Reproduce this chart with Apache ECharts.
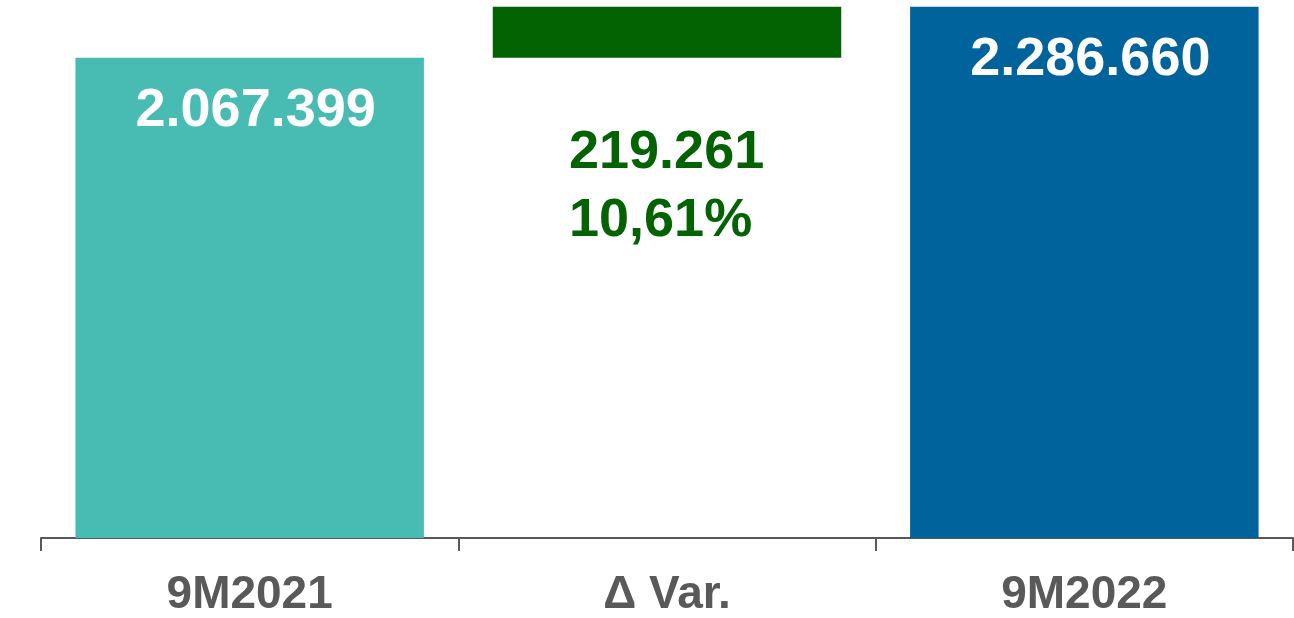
<!DOCTYPE html>
<html>
<head>
<meta charset="utf-8">
<script src="https://cdn.jsdelivr.net/npm/echarts@6/dist/echarts.min.js"></script>
<style>
  html, body { margin: 0; padding: 0; background: #ffffff; }
  #chart { width: 1294px; height: 618px; }
</style>
</head>
<body>
<div id="chart"></div>
<script>
// Period totals and the variation between them
const categories = ['9M2021', 'Δ Var.', '9M2022'];
const startValue = 2067399;
const endValue = 2286660;
const deltaValue = 219261;
const deltaPct = '10,61%';

// Waterfall: invisible base + visible segment
const baseValues = [0, startValue, 0];
const barValues = [startValue, deltaValue, endValue];
const barColors = ['#48BBB3', '#036303', '#00639C'];

const fmt = v => v.toLocaleString('de-DE');
const FONT = '"Liberation Sans", Arial, sans-serif';

const chart = echarts.init(document.getElementById('chart'), null, { renderer: 'canvas' });

const valueLabel = {
  show: true,
  position: 'insideTop',
  distance: 25,
  color: '#ffffff',
  fontFamily: FONT,
  fontWeight: 'bold',
  fontSize: 54,
  lineHeight: 56,
  offset: [6, 0],
  formatter: p => fmt(p.value)
};

const deltaLabel = {
  show: true,
  position: 'bottom',
  distance: 61,
  align: 'left',
  offset: [-98, 0],
  color: '#036303',
  fontFamily: FONT,
  fontWeight: 'bold',
  fontSize: 54,
  lineHeight: 68,
  formatter: p => fmt(p.value) + '\n' + deltaPct
};

chart.setOption({
  animation: false,
  grid: { left: 41, right: 1, top: 0, bottom: 78 },
  xAxis: {
    type: 'category',
    data: categories,
    axisLine: { lineStyle: { color: '#595959', width: 2 } },
    axisTick: { show: true, length: 13, lineStyle: { color: '#595959', width: 2 } },
    axisLabel: {
      color: '#595959',
      fontFamily: FONT,
      fontWeight: 'bold',
      fontSize: 46,
      margin: 34
    }
  },
  yAxis: {
    type: 'value',
    min: 0,
    max: 2316000,
    show: false,
    splitLine: { show: false }
  },
  series: [
    {
      type: 'bar',
      stack: 'wf',
      barWidth: '83.5%',
      silent: true,
      itemStyle: { color: 'transparent' },
      data: baseValues
    },
    {
      type: 'bar',
      stack: 'wf',
      barWidth: '83.5%',
      data: barValues.map((v, i) => ({
        value: v,
        itemStyle: { color: barColors[i] },
        label: i === 1 ? deltaLabel : valueLabel
      }))
    }
  ]
});
</script>
</body>
</html>
